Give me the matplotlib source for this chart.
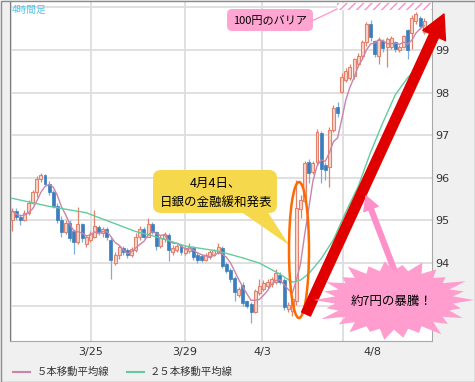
import matplotlib
matplotlib.use("Agg")
import matplotlib.pyplot as plt
import matplotlib.patches as mpatches
import matplotlib.transforms as mtransforms
from matplotlib.lines import Line2D
import numpy as np
import pandas as pd

# USD/JPY 4時間足
opens = [95.00, 95.22, 95.08, 95.02, 95.18, 95.42, 95.66, 95.98, 96.06, 95.86,
         95.66, 95.34, 95.02, 94.72, 94.94, 94.75, 94.50, 94.92, 94.45, 94.55,
         94.62, 94.85, 94.70, 94.80, 94.55, 94.00, 94.18, 94.36, 94.30, 94.18,
         94.30, 94.60, 94.80, 94.62, 94.92, 94.72, 94.40, 94.56, 94.66, 94.25,
         94.30, 94.40, 94.24, 94.28, 94.36, 94.20, 94.16, 94.08, 94.14, 94.20,
         94.26, 94.36, 93.98, 93.84, 93.66, 93.26, 93.48, 93.10, 93.04, 92.86,
         93.30, 93.40, 93.46, 93.50, 93.56, 93.72, 93.60, 92.92, 92.88, 93.10,
         95.26, 95.45, 96.38, 96.14, 96.36, 97.06, 96.30, 96.26, 97.13, 97.67,
         98.02, 98.30, 98.35, 98.38, 98.66, 98.85, 99.18, 99.60, 99.20, 98.85,
         99.22, 99.06, 99.08, 99.18, 99.00, 99.08, 99.46, 99.40, 99.67, 99.76,
         99.42]
highs = [95.30, 95.28, 95.15, 95.25, 95.48, 95.72, 96.05, 96.12, 96.10, 95.92,
         95.72, 95.40, 95.10, 95.02, 95.00, 94.80, 95.32, 94.95, 94.65, 94.75,
         95.25, 94.90, 94.85, 94.85, 94.60, 94.25, 94.42, 94.40, 94.35, 94.38,
         94.70, 94.88, 94.85, 95.05, 94.96, 94.76, 94.65, 94.72, 94.70, 94.42,
         94.45, 94.44, 94.40, 94.46, 94.40, 94.26, 94.22, 94.24, 94.30, 94.34,
         94.46, 94.40, 94.02, 93.88, 93.70, 93.44, 93.56, 93.14, 93.08, 93.40,
         93.62, 93.60, 93.62, 93.68, 93.86, 93.80, 93.64, 93.08, 93.24, 95.95,
         95.60, 96.40, 96.45, 96.40, 97.15, 97.10, 96.36, 97.20, 97.70, 97.78,
         98.45, 98.58, 98.66, 98.82, 98.92, 99.24, 99.66, 99.70, 99.24, 99.30,
         99.26, 99.30, 99.34, 99.22, 99.12, 99.36, 99.50, 99.82, 99.90, 99.80,
         99.74]
lows = [94.75, 95.00, 94.90, 94.98, 95.12, 95.38, 95.55, 95.90, 95.82, 95.60,
        95.28, 94.95, 94.62, 94.68, 94.52, 94.22, 94.45, 94.50, 94.38, 94.50,
        94.58, 94.65, 94.62, 94.55, 93.62, 93.95, 94.10, 94.20, 94.12, 94.15,
        94.25, 94.55, 94.58, 94.60, 94.68, 94.30, 94.36, 94.50, 94.05, 94.20,
        94.25, 94.20, 94.20, 94.24, 94.08, 94.00, 94.02, 94.04, 94.10, 94.16,
        94.22, 93.88, 93.76, 93.56, 93.10, 93.20, 93.00, 92.94, 92.60, 92.82,
        93.24, 93.34, 93.42, 93.44, 93.50, 93.50, 92.90, 92.84, 92.76, 93.02,
        95.05, 95.40, 95.88, 96.08, 96.30, 95.88, 95.95, 95.79, 97.08, 97.42,
        97.98, 98.24, 98.30, 98.32, 98.60, 98.80, 99.10, 99.22, 98.84, 98.66,
        98.95, 98.60, 99.02, 98.96, 98.96, 99.04, 98.80, 99.02, 99.62, 99.50,
        99.38]
closes = [95.22, 95.08, 95.02, 95.18, 95.42, 95.66, 95.98, 96.06, 95.86, 95.66,
          95.34, 95.02, 94.72, 94.94, 94.58, 94.50, 94.92, 94.58, 94.60, 94.68,
          94.88, 94.72, 94.80, 94.62, 94.08, 94.20, 94.38, 94.26, 94.18, 94.32,
          94.62, 94.80, 94.62, 94.92, 94.72, 94.40, 94.58, 94.68, 94.30, 94.36,
          94.40, 94.26, 94.34, 94.38, 94.14, 94.06, 94.06, 94.20, 94.26, 94.30,
          94.38, 93.92, 93.82, 93.62, 93.32, 93.38, 93.06, 93.00, 92.86, 93.34,
          93.46, 93.54, 93.56, 93.62, 93.76, 93.56, 92.96, 93.02, 93.16, 95.30,
          95.48, 96.35, 96.12, 96.35, 97.08, 96.20, 96.19, 97.13, 97.65, 97.53,
          98.36, 98.50, 98.61, 98.78, 98.85, 99.18, 99.60, 99.30, 98.90, 99.24,
          99.05, 99.25, 99.28, 99.02, 99.06, 99.32, 99.00, 99.76, 99.84, 99.56,
          99.68]

# 25本移動平均線 read at a few bars
ma25_idx = [0, 9, 18, 24, 30, 36, 42, 50, 56, 60, 65, 68, 70, 72, 75, 78, 81, 84, 87, 90, 93, 96, 100]
ma25_val = [95.52, 95.33, 95.18, 94.96, 94.74, 94.59, 94.40, 94.28, 94.12, 94.00, 93.74, 93.55,
            93.60, 93.75, 94.10, 94.55, 95.20, 95.80, 96.60, 97.30, 97.95, 98.35, 98.75]

tick_pos = [19, 42, 60.7, 87.4]
tick_labels = ["3/25", "3/29", "4/3", "4/8"]
vgrid_pos = [-0.3, 19.2, 42, 60.7, 80.3]
yticks = [93, 94, 95, 96, 97, 98, 99]

W, H = 475, 382
plt.rcParams['font.family'] = ['Noto Sans CJK JP', 'DejaVu Sans']

fig = plt.figure(figsize=(W / 100, H / 100), dpi=100, facecolor='#f0f0f0')
ax = fig.add_axes([10 / W, 41 / H, 422 / W, 340 / H])
ax.set_facecolor('white')
# pixel coords of the picture (y down)
px = mtransforms.Affine2D().scale(1 / W, -1 / H).translate(0, 1) + fig.transFigure

fig.add_artist(mpatches.Rectangle((0.5, 0.5), 474, 381, transform=px, fill=False,
                                  ec='#8c8c8c', lw=1.0))

# grid
for v in range(93, 101):
    ax.axhline(v, color='#dddddd', lw=1.3, zorder=1)
for p in vgrid_pos:
    ax.axvline(p, color='#dddddd', lw=1.3, zorder=1)

# candles
x = np.arange(len(closes))
o = np.array(opens); c = np.array(closes); h = np.array(highs); l = np.array(lows)
up = c >= o
ax.vlines(x[up], l[up], h[up], color='#e3826c', lw=0.9, zorder=3)
ax.vlines(x[~up], l[~up], h[~up], color='#7eaedb', lw=0.9, zorder=3)
lo = np.minimum(o, c)
bh = np.maximum(np.abs(c - o), 0.03)
ax.bar(x[up], bh[up], bottom=lo[up], width=0.72, color='#f9d6cc', edgecolor='#e3826c', lw=0.8, zorder=4)
ax.bar(x[~up], bh[~up], bottom=lo[~up], width=0.72, color='#3b7dbd', edgecolor='#3b7dbd', lw=0.5, zorder=4)

# moving averages
ma5 = pd.Series(closes).rolling(5, min_periods=1).mean()
ma5_color = '#c884aa'
ma25_color = '#62cc9f'
ax.plot(x, ma5, color=ma5_color, lw=1.0, zorder=5)
ax.plot(ma25_idx, ma25_val, color=ma25_color, lw=1.0, zorder=5)

ax.set_xlim(-0.49, 101.9)
ax.set_ylim(92.17, 100.15)
ax.yaxis.tick_right()
ax.set_yticks(yticks)
ax.set_xticks(tick_pos, tick_labels)
ax.tick_params(axis='y', length=0, pad=2, labelsize=8, labelcolor='#333333')
ax.tick_params(axis='x', length=0, pad=4, labelsize=8, labelcolor='#333333')
for lab in ax.get_xticklabels() + ax.get_yticklabels():
    lab.set_fontfamily('DejaVu Sans')
ax.spines['top'].set_visible(False)
ax.spines['left'].set_color('#7a7a7a')
ax.spines['bottom'].set_color('#a8a8a8')
ax.spines['right'].set_color('#a8a8a8')

# top-left label
fig.text(12, 10, '4時間足', transform=px, fontsize=7, color='#55c3ec', va='center', ha='left')

# 100円 barrier
ax.add_patch(mpatches.Rectangle((337, 3), 95, 7, transform=px, fc='white', ec='#ff8cc8',
                                hatch='////', lw=0, clip_on=False, zorder=6))
ax.add_line(Line2D([312, 337], [21, 9], transform=px, color='#ff9ccd', lw=1, clip_on=False, zorder=6))
ax.add_patch(mpatches.FancyBboxPatch((227, 9), 86, 22, boxstyle='round,pad=0,rounding_size=5',
                                     transform=px, fc='#ffa5d2', ec='none', clip_on=False, zorder=7))
ax.text(270, 20.5, '100円のバリア', transform=px, fontsize=8, ha='center', va='center', zorder=8)

# callout
ax.add_patch(mpatches.FancyBboxPatch((153, 170), 124, 43, boxstyle='round,pad=0,rounding_size=8',
                                     transform=px, fc='#f6d84c', ec='none', clip_on=False, zorder=7))
ax.add_patch(mpatches.Polygon([(240, 211), (267, 211), (289, 245)], closed=True, transform=px,
                              fc='#f6d84c', ec='none', clip_on=False, zorder=7))
ax.text(215, 183, '4月4日、', transform=px, fontsize=9, ha='center', va='center', zorder=8)
ax.text(216, 202, '日銀の金融緩和発表', transform=px, fontsize=9, ha='center', va='center', zorder=8)

# orange ellipse
ax.add_patch(mpatches.Ellipse((299, 250), 20, 136, transform=px, fill=False, ec='#ff6a00',
                              lw=1.8, clip_on=False, zorder=9))

# red arrow
ax.add_patch(mpatches.FancyArrowPatch((306, 314), (444, 14), transform=px,
                                      arrowstyle='simple,head_length=1.7,head_width=1.8,tail_width=0.7',
                                      mutation_scale=10, color='#e00000', shrinkA=0, shrinkB=0,
                                      clip_on=False, zorder=10))

# pink arrow
ax.add_patch(mpatches.FancyArrowPatch((400, 285), (366, 196), transform=px,
                                      arrowstyle='simple,head_length=1.0,head_width=1.1,tail_width=0.35',
                                      mutation_scale=10, color='#ff8fc8', shrinkA=0, shrinkB=0,
                                      clip_on=False, zorder=11))

# starburst
star_outer = [1.0, 0.86, 0.97, 0.9, 1.04, 0.88, 0.95, 1.0, 0.85, 0.98, 0.92, 1.03, 0.87,
              1.0, 0.9, 0.96, 0.86, 1.02, 0.9, 0.97, 0.88, 1.0, 0.93, 0.86, 1.01, 0.9]
n = len(star_outer)
ang = np.linspace(0, 2 * np.pi, 2 * n, endpoint=False)
rad = np.empty(2 * n)
rad[0::2] = star_outer
rad[1::2] = 0.74
sx = 394 + 80 * rad * np.cos(ang)
sy = 300 + 40 * rad * np.sin(ang)
ax.add_patch(mpatches.Polygon(np.column_stack([sx, sy]), closed=True, transform=px,
                              fc='#ff9dce', ec='none', clip_on=False, zorder=12))
ax.text(392, 301, '約7円の暴騰！', transform=px, fontsize=9, ha='center', va='center', zorder=13)

# legend
fig.add_artist(Line2D([13, 30], [372, 372], transform=px, color=ma5_color, lw=1.5))
fig.text(37, 372, '５本移動平均線', transform=px, fontsize=7.5, color='#333333', va='center')
fig.add_artist(Line2D([127, 144], [372, 372], transform=px, color=ma25_color, lw=1.5))
fig.text(150, 372, '２５本移動平均線', transform=px, fontsize=7.5, color='#333333', va='center')

fig.savefig('out.png', dpi=100, facecolor=fig.get_facecolor())
